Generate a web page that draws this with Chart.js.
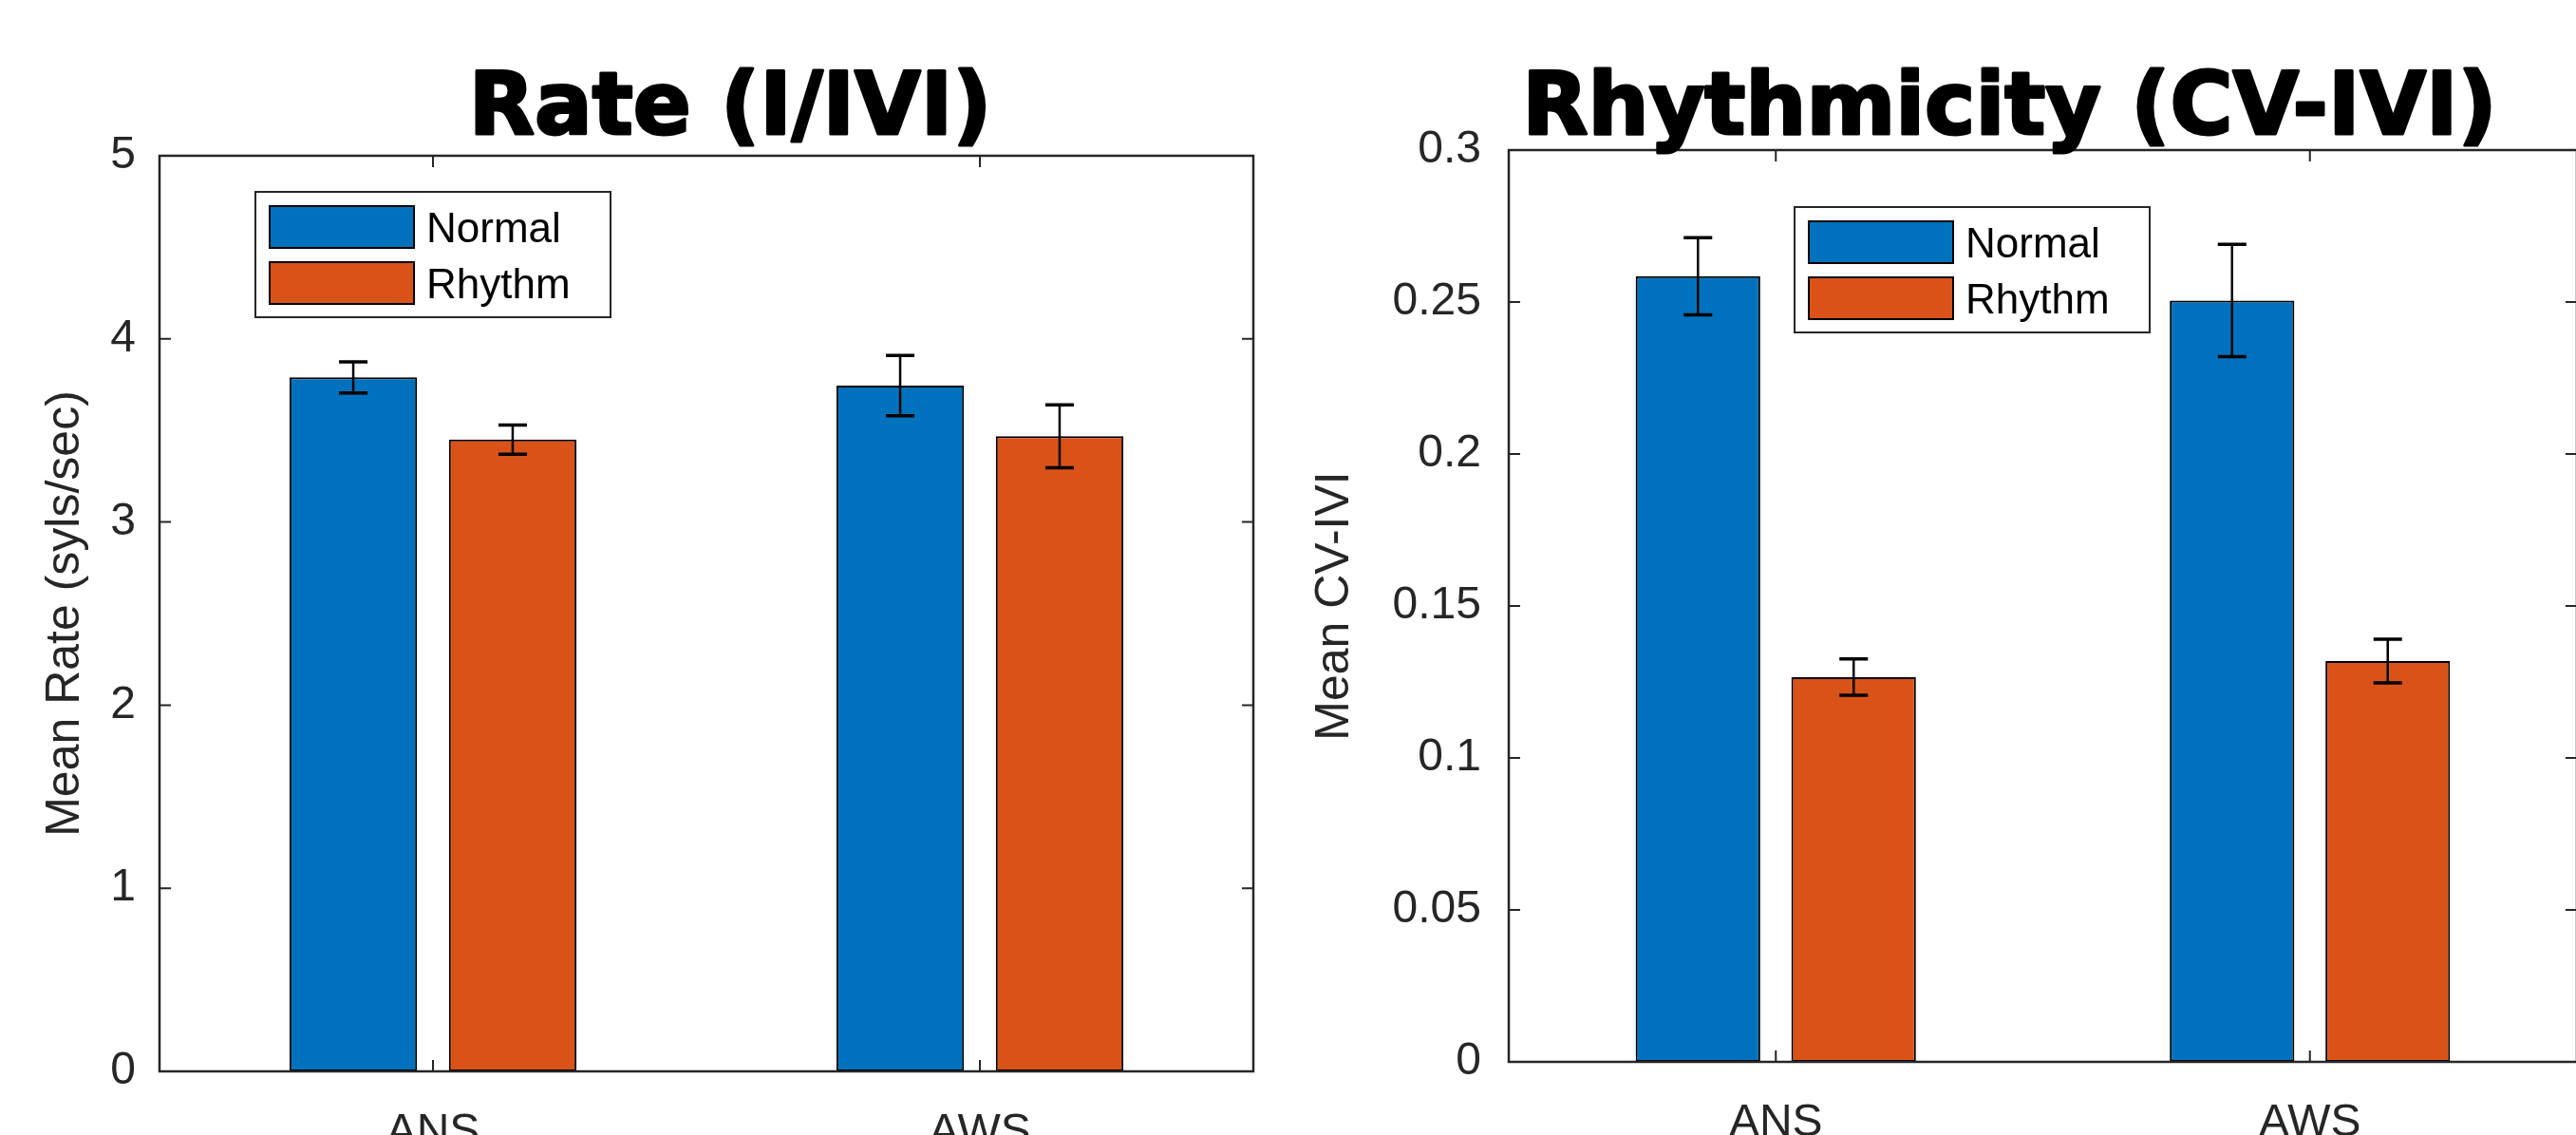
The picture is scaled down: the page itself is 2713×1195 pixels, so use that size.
<!DOCTYPE html>
<html>
<head>
<meta charset="utf-8">
<script src="https://cdn.jsdelivr.net/npm/chart.js@4.4.0/dist/chart.umd.min.js"></script>
<style>
  html, body { margin: 0; padding: 0; background: #fff; overflow: hidden; }
  #wrap { position: relative; width: 2713px; height: 1195px; }
  canvas { position: absolute; top: 0; }
  #rateChart { left: 0; }
  #cvChart { left: 1356px; }
</style>
</head>
<body>
<div id="wrap">
  <canvas id="rateChart" width="1356" height="1195"></canvas>
  <canvas id="cvChart" width="1358" height="1195"></canvas>
</div>
<script>
// categories / series
const groups = ['ANS', 'AWS'];
const conditions = ['Normal', 'Rhythm'];

// left panel: rate
const rateNormal = [3.79, 3.745];
const rateRhythm = [3.45, 3.468];
const rateNormalErr = [0.085, 0.165];
const rateRhythmErr = [0.08, 0.172];
const rateTicks = [0, 1, 2, 3, 4, 5];
const rateTickLabels = ['0', '1', '2', '3', '4', '5'];

// right panel: CV of IVI
const cvNormal = [0.2585, 0.2505];
const cvRhythm = [0.1266, 0.1319];
const cvNormalErr = [0.0127, 0.0185];
const cvRhythmErr = [0.006, 0.0072];
const cvTicks = [0, 0.05, 0.1, 0.15, 0.2, 0.25, 0.3];
const cvTickLabels = ['0', '0.05', '0.1', '0.15', '0.2', '0.25', '0.3'];

const BLUE = '#0072BD';
const ORANGE = '#D95319';
const AXIS = '#262626';
const FONT = '"Liberation Sans", Arial, Helvetica, sans-serif';

// big bold panel title
const panelTitle = {
  id: 'panelTitle',
  afterDraw(chart, args, opts) {
    const { ctx, chartArea: a } = chart;
    ctx.save();
    ctx.font = 'bold 90px "DejaVu Sans", sans-serif';
    ctx.textAlign = 'center';
    ctx.textBaseline = 'alphabetic';
    ctx.fillStyle = '#000';
    ctx.strokeStyle = '#000';
    ctx.lineWidth = 3;
    ctx.lineJoin = 'round';
    const x = (a.left + a.right) / 2 + opts.dx;
    ctx.strokeText(opts.text, x, opts.baseline);
    ctx.fillText(opts.text, x, opts.baseline);
    ctx.restore();
  }
};

// error bars on top of each bar
const errorBars = {
  id: 'errorBars',
  afterDatasetsDraw(chart) {
    const { ctx } = chart;
    const yScale = chart.scales.y;
    ctx.save();
    ctx.strokeStyle = '#000';
    chart.data.datasets.forEach((ds, i) => {
      const meta = chart.getDatasetMeta(i);
      meta.data.forEach((bar, j) => {
        const v = ds.data[j];
        const e = ds.errors[j];
        const yTop = yScale.getPixelForValue(v + e);
        const yBot = yScale.getPixelForValue(v - e);
        ctx.lineWidth = 2.5;
        ctx.beginPath();
        ctx.moveTo(bar.x, yTop);
        ctx.lineTo(bar.x, yBot);
        ctx.stroke();
        ctx.lineWidth = 3.5;
        ctx.beginPath();
        ctx.moveTo(bar.x - 15, yTop);
        ctx.lineTo(bar.x + 15, yTop);
        ctx.moveTo(bar.x - 15, yBot);
        ctx.lineTo(bar.x + 15, yBot);
        ctx.stroke();
      });
    });
    ctx.restore();
  }
};

// matlab style box with inward ticks
const axesBox = {
  id: 'axesBox',
  afterDraw(chart) {
    const { ctx, chartArea: a } = chart;
    const xs = chart.scales.x;
    const ys = chart.scales.y;
    ctx.save();
    ctx.strokeStyle = AXIS;
    ctx.lineWidth = 2.5;
    ctx.strokeRect(a.left, a.top, a.right - a.left, a.bottom - a.top);
    ctx.lineWidth = 2;
    ctx.beginPath();
    ys.ticks.forEach(t => {
      const py = ys.getPixelForValue(t.value);
      ctx.moveTo(a.left, py); ctx.lineTo(a.left + 12, py);
      ctx.moveTo(a.right, py); ctx.lineTo(a.right - 12, py);
    });
    xs.ticks.forEach((t, i) => {
      const px = xs.getPixelForTick(i);
      ctx.moveTo(px, a.bottom); ctx.lineTo(px, a.bottom - 12);
      ctx.moveTo(px, a.top); ctx.lineTo(px, a.top + 12);
    });
    ctx.stroke();
    ctx.restore();
  }
};

// legend box inside the axes
const boxLegend = {
  id: 'boxLegend',
  afterDraw(chart, args, opts) {
    const { ctx, chartArea } = chart;
    const x = chartArea.left + opts.dx;
    const y = chartArea.top + opts.dy;
    const w = 374, h = 132;
    ctx.save();
    ctx.fillStyle = '#fff';
    ctx.fillRect(x, y, w, h);
    ctx.strokeStyle = AXIS;
    ctx.lineWidth = 2;
    ctx.strokeRect(x, y, w, h);
    chart.data.datasets.forEach((ds, i) => {
      const sy = y + 15 + i * 59;
      ctx.fillStyle = ds.backgroundColor;
      ctx.fillRect(x + 15, sy, 152, 44);
      ctx.strokeStyle = '#000';
      ctx.strokeRect(x + 15, sy, 152, 44);
      ctx.fillStyle = '#000';
      ctx.font = '44px ' + FONT;
      ctx.textBaseline = 'alphabetic';
      ctx.fillText(ds.label, x + 180, sy + 38);
    });
    ctx.restore();
  }
};

function barSet(label, data, errors, color) {
  return {
    label: label,
    data: data,
    errors: errors,
    backgroundColor: color,
    borderColor: '#000',
    borderWidth: 2,
    borderSkipped: false,
    categoryPercentage: 0.583,
    barPercentage: 0.8
  };
}

function makeChart(id, cfg) {
  return new Chart(document.getElementById(id), {
    type: 'bar',
    data: {
      labels: groups,
      datasets: [
        barSet(conditions[0], cfg.normal, cfg.normalErr, BLUE),
        barSet(conditions[1], cfg.rhythm, cfg.rhythmErr, ORANGE)
      ]
    },
    plugins: [errorBars, axesBox, boxLegend, panelTitle],
    options: {
      responsive: false,
      animation: false,
      layout: { padding: { left: 0, right: cfg.padRight, top: cfg.padTop, bottom: 0 } },
      plugins: {
        legend: { display: false },
        tooltip: { enabled: false },
        title: { display: false },
        panelTitle: { text: cfg.title, dx: cfg.titleDx, baseline: 141 },
        boxLegend: { dx: cfg.legendX, dy: cfg.legendY }
      },
      scales: {
        x: {
          grid: { display: false },
          border: { display: false },
          afterFit: s => { s.height = cfg.xHeight; },
          ticks: { padding: 28, color: AXIS, autoSkip: false, maxRotation: 0, font: { family: FONT, size: 48 } }
        },
        y: {
          min: cfg.ticks[0],
          max: cfg.ticks[cfg.ticks.length - 1],
          grid: { display: false },
          border: { display: false },
          afterBuildTicks: s => { s.ticks = cfg.ticks.map(v => ({ value: v })); },
          afterFit: s => { s.width = cfg.yWidth; },
          ticks: {
            padding: cfg.tickPad,
            color: AXIS,
            autoSkip: false,
            font: { family: FONT, size: 48 },
            callback: (v, i) => cfg.tickLabels[i]
          },
          title: {
            display: true,
            text: cfg.yTitle,
            color: AXIS,
            font: { family: FONT, size: 50 },
            padding: { top: cfg.yTitlePad, bottom: 0 }
          }
        }
      }
    }
  });
}

makeChart('rateChart', {
  title: 'Rate (I/IVI)',
  yTitle: 'Mean Rate (syls/sec)',
  normal: rateNormal, rhythm: rateRhythm,
  normalErr: rateNormalErr, rhythmErr: rateRhythmErr,
  ticks: rateTicks, tickLabels: rateTickLabels,
  padRight: 36, padTop: 164, titleDx: 25, xHeight: 67, yWidth: 168,
  tickPad: 17, yTitlePad: 39, legendX: 101, legendY: 38
});

makeChart('cvChart', {
  title: 'Rhythmicity (CV-IVI)',
  yTitle: 'Mean CV-IVI',
  normal: cvNormal, rhythm: cvRhythm,
  normalErr: cvNormalErr, rhythmErr: cvRhythmErr,
  ticks: cvTicks, tickLabels: cvTickLabels,
  padRight: 0, padTop: 158, titleDx: -35, xHeight: 77, yWidth: 233,
  tickPad: 21, yTitlePad: 20, legendX: 301, legendY: 60
});
</script>
</body>
</html>
